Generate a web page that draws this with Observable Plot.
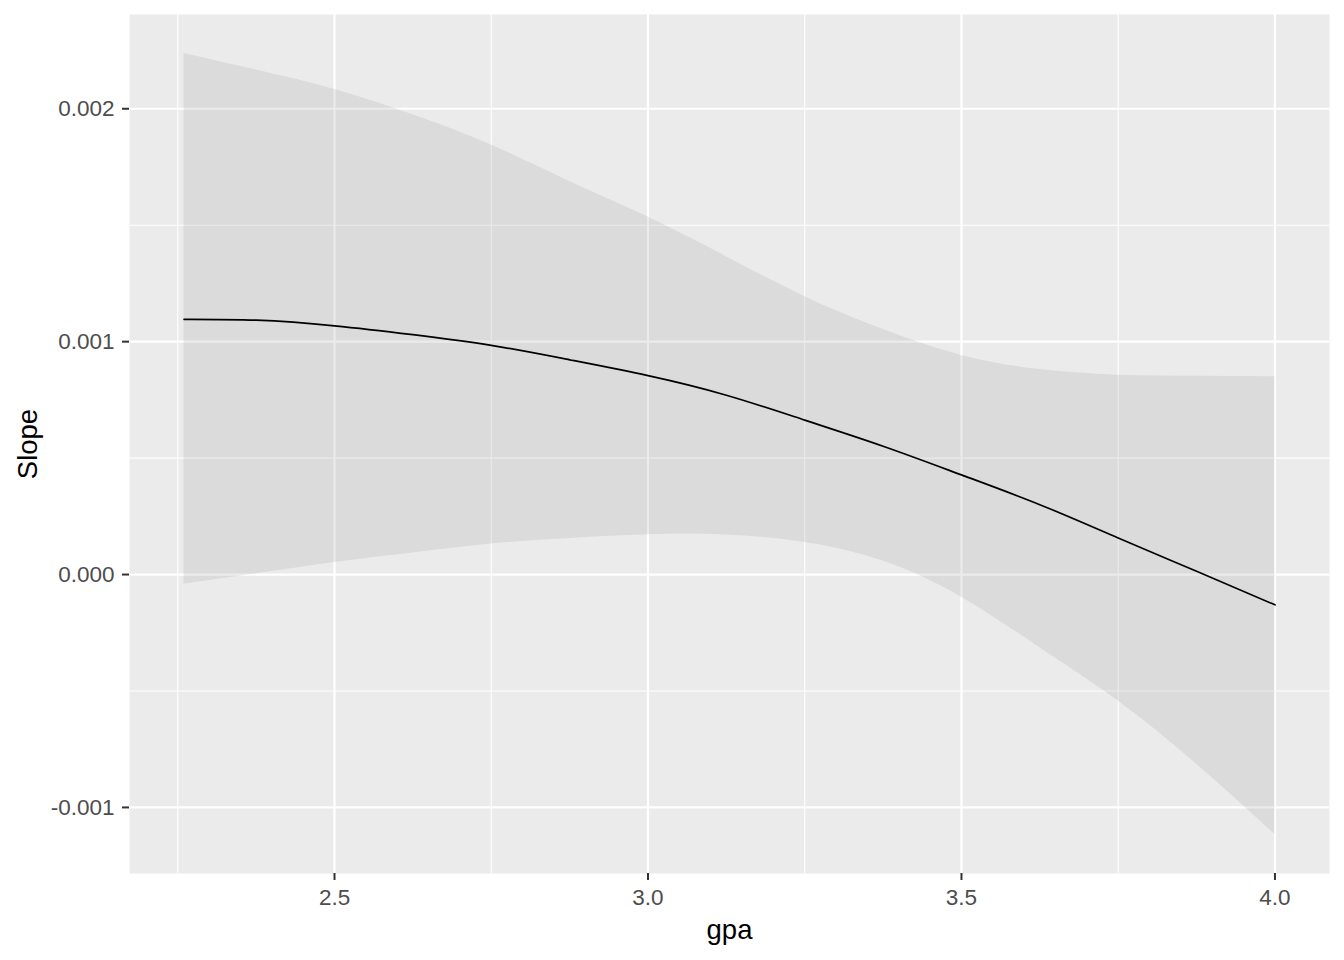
<!DOCTYPE html>
<html>
<head>
<meta charset="utf-8">
<script src="https://cdn.jsdelivr.net/npm/d3@7"></script>
<script src="https://cdn.jsdelivr.net/npm/@observablehq/plot@0.6"></script>
<style>
  html, body { margin: 0; padding: 0; background: white; }
  #chart svg { display: block; }
</style>
</head>
<body>
<div id="chart"></div>
<script>
// Data
const gpa   = [2.26, 2.375, 2.5, 2.625, 2.75, 2.875, 3.0, 3.125, 3.25, 3.375, 3.5, 3.625, 3.75, 3.875, 4.0];
const slope = [0.001096, 0.001092, 0.001068, 0.001030, 0.000984, 0.000922, 0.000854, 0.000770, 0.000663, 0.000551, 0.000428, 0.000300, 0.000157, 0.000014, -0.000130];
const upper = [0.002237, 0.002166, 0.002083, 0.001974, 0.001844, 0.001688, 0.001535, 0.001365, 0.001193, 0.001052, 0.000941, 0.000880, 0.000856, 0.000851, 0.000849];
const lower = [-0.0000415, 0.000003, 0.000052, 0.000093, 0.000131, 0.000155, 0.000171, 0.000170, 0.000138, 0.000058, -0.000097, -0.000314, -0.000543, -0.000815, -0.001116];

const xMajor = [2.5, 3.0, 3.5, 4.0];
const xMinor = [2.25, 2.75, 3.25, 3.75];
const yMajor = [-0.001, 0.000, 0.001, 0.002];
const yMinor = [-0.0005, 0.0005, 0.0015];

const xLabel = "gpa";
const yLabel = "Slope";

const data = gpa.map((x, i) => ({x, fit: slope[i], lo: lower[i], hi: upper[i]}));

// ggplot-like 5% expansion
function expand(ext) {
  const r = ext[1] - ext[0];
  return [ext[0] - 0.05 * r, ext[1] + 0.05 * r];
}
const xDomain = expand(d3.extent(gpa));
const yDomain = expand([d3.min(lower.concat(slope)), d3.max(upper.concat(slope))]);

const chart = Plot.plot({
  width: 1344,
  height: 960,
  marginLeft: 129,
  marginRight: 15,
  marginTop: 14,
  marginBottom: 87,
  style: {fontFamily: "'Liberation Sans', Arial, sans-serif", fontSize: "22.5px", background: "white"},
  x: {domain: xDomain},
  y: {domain: yDomain},
  marks: [
    Plot.frame({fill: "#EBEBEB", stroke: null}),
    Plot.gridX({ticks: xMinor, stroke: "white", strokeOpacity: 1, strokeWidth: 1.1}),
    Plot.gridY({ticks: yMinor, stroke: "white", strokeOpacity: 1, strokeWidth: 1.1}),
    Plot.gridX({ticks: xMajor, stroke: "white", strokeOpacity: 1, strokeWidth: 2.2}),
    Plot.gridY({ticks: yMajor, stroke: "white", strokeOpacity: 1, strokeWidth: 2.2}),
    Plot.areaY(data, {x: "x", y1: "lo", y2: "hi", fill: "#999999", fillOpacity: 0.2, curve: "natural"}),
    Plot.lineY(data, {x: "x", y: "fit", stroke: "black", strokeWidth: 1.7, curve: "natural"}),
    Plot.axisX({ticks: xMajor, tickFormat: d => d.toFixed(1), tickSize: 7, tickPadding: 9,
      label: null, fontSize: 22.5, stroke: "#333333", fill: "#4D4D4D", strokeWidth: 2}),
    Plot.axisY({ticks: yMajor, tickFormat: d => d.toFixed(3), tickSize: 7, tickPadding: 8,
      label: null, fontSize: 22.5, stroke: "#333333", fill: "#4D4D4D", strokeWidth: 2}),
    Plot.text([xLabel], {frameAnchor: "bottom", text: d => d, dy: 57, fontSize: 27.5, fill: "black",
      textAnchor: "middle", lineAnchor: "middle"}),
    Plot.text([yLabel], {frameAnchor: "left", text: d => d, dx: -101, rotate: -90, fontSize: 27.5, fill: "black",
      textAnchor: "middle", lineAnchor: "middle"})
  ]
});
document.getElementById("chart").appendChild(chart);
</script>
</body>
</html>
